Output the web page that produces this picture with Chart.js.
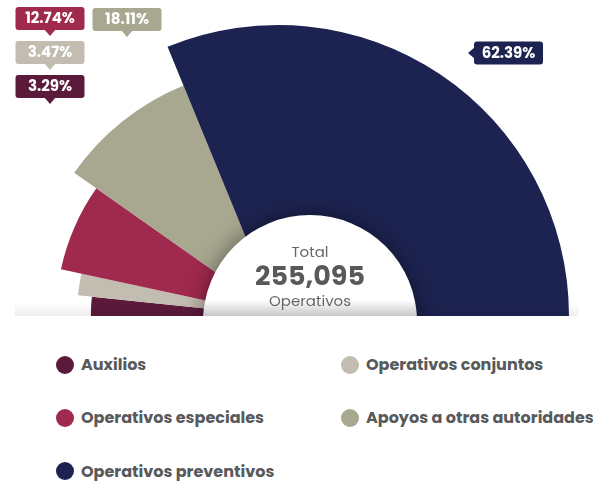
<!DOCTYPE html>
<html lang="es">
<head>
    <meta charset="utf-8">
    <meta name="viewport" content="width=device-width, initial-scale=1">
    <title>Operativos</title>
    <style>
        html, body { margin: 0; padding: 0; background: #fff; overflow: hidden; }
        body { position: relative; width: 593px; height: 481px; font-family: Poppins, 'Open Sans', sans-serif; }
        /* canvas starts left of the window: the big slice is centred at x=278 with r=291 */
        #chart-box { position: absolute; left: -13px; top: 0; width: 606px; height: 316px; }
        #legend { position: absolute; left: 56px; top: 338px; display: grid;
                  grid-template-columns: 285px auto; grid-auto-rows: 53.3px; }
        .item { display: flex; align-items: center; font-weight: 700; font-size: 16px; color: #58595b; white-space: nowrap; }
        .dot { width: 18px; height: 18px; border-radius: 50%; margin-right: 7px; flex: none; }
    </style>
</head>
<body>
    <div id="chart-box"><canvas id="myChart"></canvas></div>
    <div id="legend"></div>
    <script src="https://cdn.jsdelivr.net/npm/chart.js"></script>
    <script>
        const categories = ['Auxilios', 'Operativos conjuntos', 'Operativos especiales', 'Apoyos a otras autoridades', 'Operativos preventivos']
        const shares = [3.29, 3.47, 12.74, 18.11, 62.39]
        // relative outer radius of each slice (variable pie)
        const depth = [0.643, 0.691, 0.763, 0.856, 1]
        const colors = ['#5c1a3b', '#c2bdb0', '#a0294e', '#a8a790', '#1c2350']
        const totalOperativos = 255095

        // callout placement, relative to the pie centre (tip of the pointer)
        const callouts = [
            { dx: -228, dy: -212, dir: 'down' },
            { dx: -228, dy: -246, dir: 'down' },
            { dx: -228, dy: -280, dir: 'down' },
            { dx: -151, dy: -279, dir: 'down' },
            { dx: 190, dy: -263, dir: 'left' }
        ]

        const FONT = "Poppins, 'Open Sans', sans-serif"

        const variableRadius = {
            id: 'variableRadius',
            beforeDatasetsDraw(chart) {
                const meta = chart.getDatasetMeta(0)
                meta.data.forEach((arc, i) => {
                    arc.outerRadius = meta.controller.outerRadius * depth[i]
                })
            }
        }

        function roundRect(ctx, x, y, w, h, r) {
            ctx.beginPath()
            ctx.moveTo(x + r, y)
            ctx.arcTo(x + w, y, x + w, y + h, r)
            ctx.arcTo(x + w, y + h, x, y + h, r)
            ctx.arcTo(x, y + h, x, y, r)
            ctx.arcTo(x, y, x + w, y, r)
            ctx.closePath()
        }

        const centerLabel = {
            id: 'centerLabel',
            afterDatasetsDraw(chart) {
                const ctx = chart.ctx
                const arc = chart.getDatasetMeta(0).data[0]
                const cx = arc.x + 32, cy = arc.y + 6, r = 107
                const base = arc.y
                ctx.save()
                // faint shadow along the bottom edge
                let g = ctx.createLinearGradient(0, base - 13, 0, base)
                g.addColorStop(0, 'rgba(0,0,0,0)')
                g.addColorStop(1, 'rgba(0,0,0,0.07)')
                ctx.fillStyle = g
                ctx.fillRect(28, base - 13, 563, 13)
                // white disc with shadow
                ctx.shadowColor = 'rgba(0,0,0,0.45)'
                ctx.shadowBlur = 22
                ctx.fillStyle = '#fff'
                ctx.beginPath()
                ctx.arc(cx, cy, r, 0, Math.PI * 2)
                ctx.fill()
                ctx.shadowColor = 'transparent'
                ctx.clip()
                g = ctx.createLinearGradient(0, base - 16, 0, base)
                g.addColorStop(0, 'rgba(0,0,0,0)')
                g.addColorStop(1, 'rgba(0,0,0,0.22)')
                ctx.fillStyle = g
                ctx.fillRect(cx - r, base - 16, 2 * r, 16)
                ctx.restore()

                ctx.save()
                ctx.textAlign = 'center'
                ctx.textBaseline = 'alphabetic'
                ctx.fillStyle = '#666'
                ctx.font = '15px ' + FONT
                ctx.fillText('Total', cx, base - 59)
                ctx.fillStyle = '#58595b'
                ctx.font = 'bold 27px ' + FONT
                ctx.fillText(totalOperativos.toLocaleString('en-US'), cx, base - 31)
                ctx.fillStyle = '#666'
                ctx.font = '15px ' + FONT
                ctx.fillText('Operativos', cx, base - 10)
                ctx.restore()
            }
        }

        const calloutLabels = {
            id: 'calloutLabels',
            afterDraw(chart) {
                const ctx = chart.ctx
                const arc = chart.getDatasetMeta(0).data[0]
                const w = 69, h = 23, p = 6
                ctx.save()
                ctx.font = 'bold 15px ' + FONT
                ctx.textAlign = 'center'
                ctx.textBaseline = 'middle'
                shares.forEach((v, i) => {
                    const c = callouts[i]
                    const tx = arc.x + c.dx, ty = arc.y + c.dy
                    let bx, by
                    ctx.fillStyle = colors[i]
                    ctx.beginPath()
                    if (c.dir === 'down') {
                        bx = tx - w / 2; by = ty - p - h
                        ctx.moveTo(tx - 6, by + h - 1); ctx.lineTo(tx, ty); ctx.lineTo(tx + 6, by + h - 1)
                    } else {
                        bx = tx + p; by = ty - h / 2
                        ctx.moveTo(bx + 1, ty - 6); ctx.lineTo(tx, ty); ctx.lineTo(bx + 1, ty + 6)
                    }
                    ctx.fill()
                    roundRect(ctx, bx, by, w, h, 3)
                    ctx.fill()
                    ctx.fillStyle = '#fff'
                    ctx.fillText(v.toFixed(2) + '%', bx + w / 2, by + h / 2 + 1)
                })
                ctx.restore()
            }
        }

        const config = {
            type: 'doughnut',
            data: {
                labels: categories,
                datasets: [{
                    data: shares,
                    backgroundColor: colors,
                    borderWidth: 0,
                    hoverOffset: 0
                }]
            },
            options: {
                responsive: true,
                maintainAspectRatio: false,
                animation: false,
                events: [],
                rotation: -90,
                circumference: 180,
                cutout: '25%',
                layout: { padding: { top: 25, right: 24, left: 0, bottom: 0 } },
                plugins: {
                    legend: { display: false },
                    tooltip: { enabled: false }
                }
            },
            plugins: [variableRadius, centerLabel, calloutLabels]
        }
        const ctx = document.getElementById('myChart').getContext('2d')
        const chart_object = new Chart(ctx, config)

        // html legend in two columns
        const legend = document.getElementById('legend')
        categories.forEach((name, i) => {
            const item = document.createElement('div')
            item.className = 'item'
            item.innerHTML = '<span class="dot" style="background:' + colors[i] + '"></span>' + name
            legend.appendChild(item)
        })
    </script>
</body>
</html>
